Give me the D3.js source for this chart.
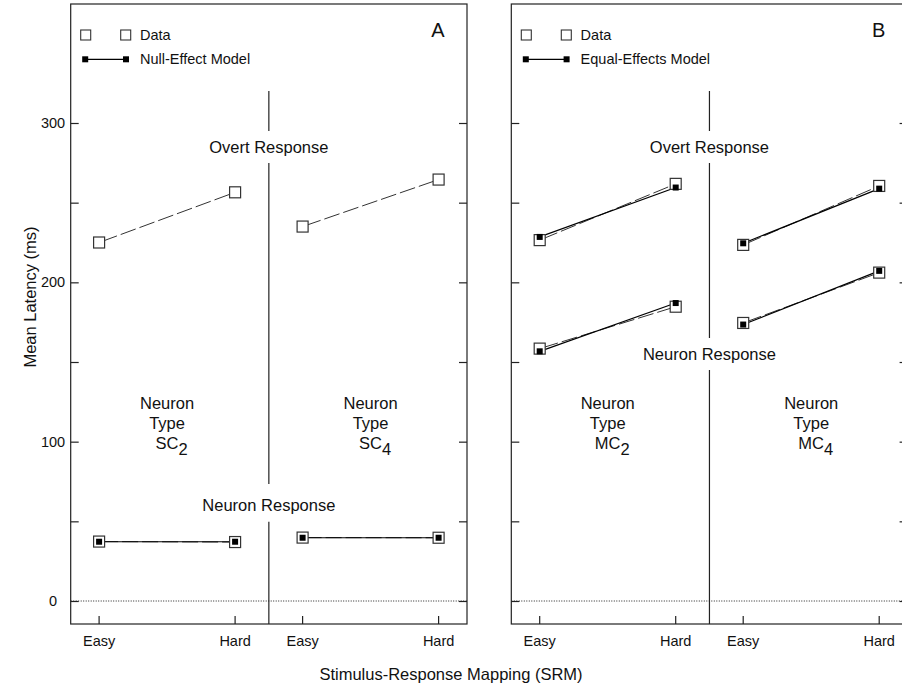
<!DOCTYPE html>
<html>
<head>
<meta charset="utf-8">
<script src="https://cdn.jsdelivr.net/npm/d3@7"></script>
<style>
  html, body { margin: 0; padding: 0; background: #fff; }
  svg { display: block; font-family: "Liberation Sans", Arial, Helvetica, sans-serif; }
</style>
</head>
<body>
<script>
// ---------------- data ----------------
const conditions = ["Easy", "Hard"];
const panelAGroups = ["SC2", "SC4"];
const panelBGroups = ["MC2", "MC4"];
const yTickValues = [0, 50, 100, 150, 200, 250, 300];
const yTickLabels = [0, 100, 200, 300];

// Panel A (Null-Effect Model)
const sc2OvertData = [225, 256.5];
const sc4OvertData = [235, 264.5];
const sc2NeuronData = [37.3, 37.0];
const sc2NeuronModel = [37.2, 37.2];
const sc4NeuronData = [39.8, 39.7];
const sc4NeuronModel = [39.7, 39.7];

// Panel B (Equal-Effects Model)
const mc2OvertData = [226.5, 261.8];
const mc2OvertModel = [228.5, 259.5];
const mc4OvertData = [223.5, 260.5];
const mc4OvertModel = [224.5, 258.8];
const mc2NeuronData = [158.4, 184.7];
const mc2NeuronModel = [156.7, 187.0];
const mc4NeuronData = [174.5, 206.1];
const mc4NeuronModel = [173.5, 207.2];

// ---------------- layout ----------------
const W = 902, H = 687;
const frameTop = 4, frameBottom = 624;
const panelWidth = 396.3;
const FONT_TICK = 14.5, FONT_LEG = 14.5, FONT_REG = 16.5, FONT_TITLE = 16.5;

const svg = d3.select("body").append("svg").attr("width", W).attr("height", H);

const y = d3.scaleLinear().domain([0, 300]).range([601, 123]);

const panels = [
  {
    letter: "A", left: 70.7, groups: panelAGroups, modelName: "Null-Effect Model",
    neuronLabelBaseline: 511, neuronGap: [484, 521.7],
    series: [
      { group: "SC2", data: sc2OvertData, model: null },
      { group: "SC4", data: sc4OvertData, model: null },
      { group: "SC2", data: sc2NeuronData, model: sc2NeuronModel },
      { group: "SC4", data: sc4NeuronData, model: sc4NeuronModel }
    ]
  },
  {
    letter: "B", left: 511.3, groups: panelBGroups, modelName: "Equal-Effects Model",
    neuronLabelBaseline: 360, neuronGap: [338, 370],
    series: [
      { group: "MC2", data: mc2OvertData, model: mc2OvertModel },
      { group: "MC4", data: mc4OvertData, model: mc4OvertModel },
      { group: "MC2", data: mc2NeuronData, model: mc2NeuronModel },
      { group: "MC4", data: mc4NeuronData, model: mc4NeuronModel }
    ]
  }
];

const overtBaseline = 152.5, overtGap = [131, 163], dividerTop = 91;

panels.forEach((p, pi) => {
  const left = p.left, right = left + panelWidth;
  const g = svg.append("g");
  const groupX = d3.scalePoint().domain(p.groups).range([left, right]).padding(0.4737);
  const condX = d3.scalePoint().domain(conditions).range([-68, 68]);
  const xPos = (grp, c) => groupX(grp) + condX(c);
  const mid = (left + right) / 2;

  // frame
  g.append("rect")
    .attr("x", left).attr("y", frameTop)
    .attr("width", panelWidth).attr("height", frameBottom - frameTop)
    .attr("fill", "none").attr("stroke", "#222").attr("stroke-width", 1.2);

  // y axes (ticks inward)
  const ax = g.append("g").attr("transform", `translate(${left},0)`)
    .call(d3.axisLeft(y).tickValues(yTickValues).tickSize(-8).tickPadding(17.7)
      .tickFormat(d => (pi === 0 && yTickLabels.includes(d)) ? d : ""));
  ax.select(".domain").remove();
  ax.selectAll("line").attr("stroke", "#222").attr("stroke-width", 1.2);
  ax.selectAll("text").attr("text-anchor", "middle")
    .attr("font-size", FONT_TICK).attr("fill", "#111")
    .attr("font-family", "Liberation Sans, Arial, sans-serif");
  const axr = g.append("g").attr("transform", `translate(${right},0)`)
    .call(d3.axisRight(y).tickValues(yTickValues).tickSize(-8).tickFormat(""));
  axr.select(".domain").remove();
  axr.selectAll("line").attr("stroke", "#222").attr("stroke-width", 1.2);

  // x ticks and labels
  const xTicks = [];
  p.groups.forEach(grp => conditions.forEach(c => xTicks.push({ grp, c })));
  g.selectAll(".xtick").data(xTicks).join("line")
    .attr("x1", d => xPos(d.grp, d.c)).attr("x2", d => xPos(d.grp, d.c))
    .attr("y1", frameBottom).attr("y2", frameBottom - 8)
    .attr("stroke", "#222").attr("stroke-width", 1.2);
  g.selectAll(".xlab").data(xTicks).join("text")
    .attr("x", d => xPos(d.grp, d.c)).attr("y", 645.7)
    .attr("text-anchor", "middle").attr("font-size", FONT_TICK).attr("fill", "#111")
    .text(d => d.c);

  // zero dotted line
  g.append("line")
    .attr("x1", left).attr("x2", right).attr("y1", y(0)).attr("y2", y(0))
    .attr("stroke", "#222").attr("stroke-width", 1).attr("stroke-dasharray", "1,1.5");

  // divider with gaps for labels
  const segs = [[dividerTop, overtGap[0]], [overtGap[1], p.neuronGap[0]], [p.neuronGap[1], frameBottom]];
  g.selectAll(".divseg").data(segs).join("line")
    .attr("x1", mid).attr("x2", mid).attr("y1", d => d[0]).attr("y2", d => d[1])
    .attr("stroke", "#222").attr("stroke-width", 1.2);

  g.append("text").attr("x", mid).attr("y", overtBaseline).attr("text-anchor", "middle")
    .attr("font-size", FONT_REG).attr("fill", "#111").text("Overt Response");
  g.append("text").attr("x", mid).attr("y", p.neuronLabelBaseline).attr("text-anchor", "middle")
    .attr("font-size", FONT_REG).attr("fill", "#111").text("Neuron Response");

  // neuron type labels
  p.groups.forEach(grp => {
    const cx = groupX(grp);
    const t = g.append("text").attr("text-anchor", "middle").attr("font-size", FONT_REG).attr("fill", "#111");
    t.append("tspan").attr("x", cx).attr("y", 408.5).text("Neuron");
    t.append("tspan").attr("x", cx).attr("y", 428.5).text("Type");
    const t3 = g.append("text").attr("text-anchor", "middle").attr("font-size", FONT_REG).attr("fill", "#111")
      .attr("x", cx + 4.5).attr("y", 448.5);
    t3.append("tspan").text(grp.slice(0, 2));
    t3.append("tspan").attr("dy", 6.5).text(grp.slice(2));
  });

  // series lines
  const lineGen = d3.line().x(d => d.x).y(d => d.y);
  const pts = (s, vals) => conditions.map((c, i) => ({ x: xPos(s.group, c), y: y(vals[i]) }));
  p.series.forEach(s => {
    g.append("path").attr("d", lineGen(pts(s, s.data)))
      .attr("fill", "none").attr("stroke", "#333").attr("stroke-width", 1)
      .attr("stroke-dasharray", "16,4").attr("stroke-dashoffset", -3);
    if (s.model) {
      g.append("path").attr("d", lineGen(pts(s, s.model)))
        .attr("fill", "none").attr("stroke", "#000").attr("stroke-width", 1.2);
    }
  });
  p.series.forEach(s => {
    g.selectAll(null).data(pts(s, s.data)).join("rect")
      .attr("x", d => d.x - 5.5).attr("y", d => d.y - 5.5)
      .attr("width", 11).attr("height", 11)
      .attr("fill", "#fff").attr("stroke", "#333").attr("stroke-width", 1.2);
  });
  p.series.forEach(s => {
    if (!s.model) return;
    g.selectAll(null).data(pts(s, s.model)).join("rect")
      .attr("x", d => d.x - 3).attr("y", d => d.y - 3)
      .attr("width", 6).attr("height", 6).attr("fill", "#000");
  });

  // legend
  const lg = g.append("g").attr("transform", `translate(${left},0)`);
  lg.selectAll(".lsq").data([15, 55]).join("rect")
    .attr("x", d => d - 5).attr("y", 30).attr("width", 10).attr("height", 10)
    .attr("fill", "#fff").attr("stroke", "#333").attr("stroke-width", 1.1);
  lg.append("text").attr("x", 69.3).attr("y", 40).attr("font-size", FONT_LEG).attr("fill", "#111").text("Data");
  lg.append("line").attr("x1", 14.5).attr("x2", 55.3).attr("y1", 59.3).attr("y2", 59.3)
    .attr("stroke", "#000").attr("stroke-width", 1.2);
  lg.selectAll(".lmsq").data([14.5, 55.3]).join("rect")
    .attr("x", d => d - 3).attr("y", 56.3).attr("width", 6).attr("height", 6).attr("fill", "#000");
  lg.append("text").attr("x", 69.3).attr("y", 64.3).attr("font-size", FONT_LEG).attr("fill", "#111").text(p.modelName);
  lg.append("text").attr("x", 367.3).attr("y", 36.7).attr("text-anchor", "middle")
    .attr("font-size", 20).attr("fill", "#111").text(p.letter);
});

// axis titles
svg.append("text").attr("transform", "translate(35.5,297) rotate(-90)")
  .attr("text-anchor", "middle").attr("font-size", FONT_TITLE).attr("fill", "#111")
  .text("Mean Latency (ms)");
svg.append("text").attr("x", 451).attr("y", 680).attr("text-anchor", "middle")
  .attr("font-size", FONT_TITLE).attr("fill", "#111")
  .text("Stimulus-Response Mapping (SRM)");
</script>
</body>
</html>
